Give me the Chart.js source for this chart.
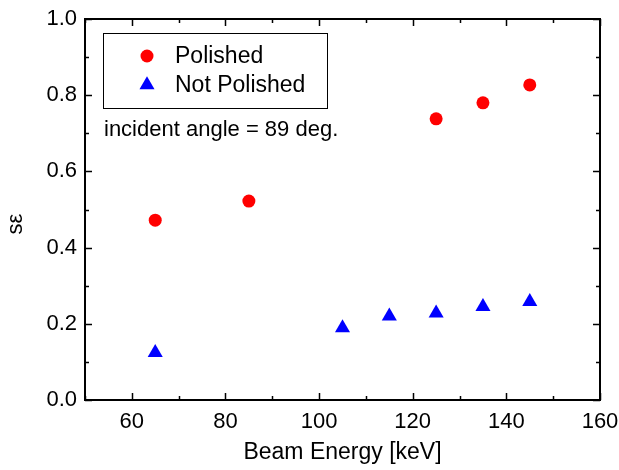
<!DOCTYPE html>
<html>
<head>
<meta charset="utf-8">
<script src="https://cdn.jsdelivr.net/npm/chart.js@4.4.1/dist/chart.umd.min.js"></script>
<style>
  html, body { margin: 0; padding: 0; background: #fff; }
  #wrap { width: 619px; height: 470px; }
</style>
</head>
<body>
<div id="wrap"><canvas id="c" width="619" height="470"></canvas></div>
<script>
// data
const polishedEnergy = [65, 85, 125, 135, 145];
const polishedValues = [0.472, 0.522, 0.738, 0.780, 0.827];
const notPolishedEnergy = [65, 105, 115, 125, 135, 145];
const notPolishedValues = [0.124, 0.189, 0.220, 0.228, 0.245, 0.258];
const xTicks = [60, 80, 100, 120, 140, 160];
const yTicks = [0.0, 0.2, 0.4, 0.6, 0.8, 1.0];
const noteText = "incident angle = 89 deg.";

const FONT = "'Liberation Sans', Arial, sans-serif";

function toPoints(xs, ys) {
  return xs.map((x, i) => ({ x: x, y: ys[i] }));
}

// frame, inward ticks, legend box, note and y title
const framePlugin = {
  id: "frame",
  afterDraw(chart) {
    const ctx = chart.ctx;
    const a = chart.chartArea;
    const xs = chart.scales.x;
    const ys = chart.scales.y;
    ctx.save();
    ctx.strokeStyle = "#000";
    ctx.lineWidth = 2;
    ctx.strokeRect(a.left, a.top, a.right - a.left, a.bottom - a.top);

    ctx.lineWidth = 1.5;
    ctx.beginPath();
    // x ticks (major + minor)
    for (let v = 50; v <= 160; v += 10) {
      const px = Math.round(xs.getPixelForValue(v)) + 0.5;
      const len = xTicks.includes(v) ? 7 : 4;
      ctx.moveTo(px, a.bottom); ctx.lineTo(px, a.bottom - len);
      ctx.moveTo(px, a.top); ctx.lineTo(px, a.top + len);
    }
    // y ticks
    for (let i = 0; i <= 10; i++) {
      const v = i / 10;
      const py = Math.round(ys.getPixelForValue(v)) + 0.5;
      const len = i % 2 === 0 ? 7 : 4;
      ctx.moveTo(a.left, py); ctx.lineTo(a.left + len, py);
      ctx.moveTo(a.right, py); ctx.lineTo(a.right - len, py);
    }
    ctx.stroke();

    // legend box
    ctx.lineWidth = 1;
    ctx.strokeRect(103.5, 33.5, 224, 75);
    const ds = chart.data.datasets;
    const rows = [56, 85];
    ds.forEach((d, i) => {
      ctx.fillStyle = d.backgroundColor;
      ctx.beginPath();
      if (d.pointStyle === "triangle") {
        const r = d.pointRadius;
        const cx = 147, cy = rows[i];
        ctx.moveTo(cx, cy - r);
        ctx.lineTo(cx + r * 0.866, cy + r * 0.5);
        ctx.lineTo(cx - r * 0.866, cy + r * 0.5);
        ctx.closePath();
      } else {
        ctx.arc(147, rows[i], d.pointRadius, 0, Math.PI * 2);
      }
      ctx.fill();
      ctx.fillStyle = "#000";
      ctx.font = "23px " + FONT;
      ctx.textBaseline = "middle";
      ctx.textAlign = "left";
      ctx.fillText(d.label, 175, rows[i] + 1);
    });

    // note
    ctx.font = "22px " + FONT;
    ctx.fillText(noteText, 104, 130);

    // y title
    ctx.translate(16, 224);
    ctx.rotate(-Math.PI / 2);
    ctx.textAlign = "center";
    ctx.font = "22px " + FONT;
    ctx.fillText("s\u03B5", 0, 0);
    ctx.restore();
  }
};

new Chart(document.getElementById("c"), {
  type: "scatter",
  data: {
    datasets: [
      {
        label: "Polished",
        data: toPoints(polishedEnergy, polishedValues),
        backgroundColor: "#ff0000",
        borderColor: "#ff0000",
        pointStyle: "circle",
        pointRadius: 6.5,
        borderWidth: 0
      },
      {
        label: "Not Polished",
        data: toPoints(notPolishedEnergy, notPolishedValues),
        backgroundColor: "#0000ff",
        borderColor: "#0000ff",
        pointStyle: "triangle",
        pointRadius: 8.7,
        borderWidth: 0
      }
    ]
  },
  options: {
    responsive: false,
    animation: false,
    layout: { padding: { top: 19, right: 19, left: 0, bottom: 0 } },
    plugins: {
      legend: { display: false },
      tooltip: { enabled: false }
    },
    scales: {
      x: {
        type: "linear",
        min: 50,
        max: 160,
        afterBuildTicks: (s) => { s.ticks = xTicks.map(v => ({ value: v })); },
        afterFit: (s) => { s.height = 70; s.paddingLeft = 0; s.paddingRight = 0; },
        grid: { display: false, drawTicks: false },
        border: { display: false },
        ticks: {
          padding: 9,
          color: "#000",
          font: { family: FONT, size: 22 },
          maxRotation: 0
        },
        title: {
          display: true,
          text: "Beam Energy [keV]",
          color: "#000",
          font: { family: FONT, size: 23 },
          padding: { top: 9 }
        }
      },
      y: {
        type: "linear",
        min: 0,
        max: 1,
        afterBuildTicks: (s) => { s.ticks = yTicks.map(v => ({ value: v })); },
        afterFit: (s) => { s.width = 85; s.paddingTop = 0; s.paddingBottom = 0; },
        grid: { display: false, drawTicks: false },
        border: { display: false },
        ticks: {
          padding: 8,
          color: "#000",
          font: { family: FONT, size: 22 },
          callback: (v) => Number(v).toFixed(1)
        }
      }
    }
  },
  plugins: [framePlugin]
});
</script>
</body>
</html>
